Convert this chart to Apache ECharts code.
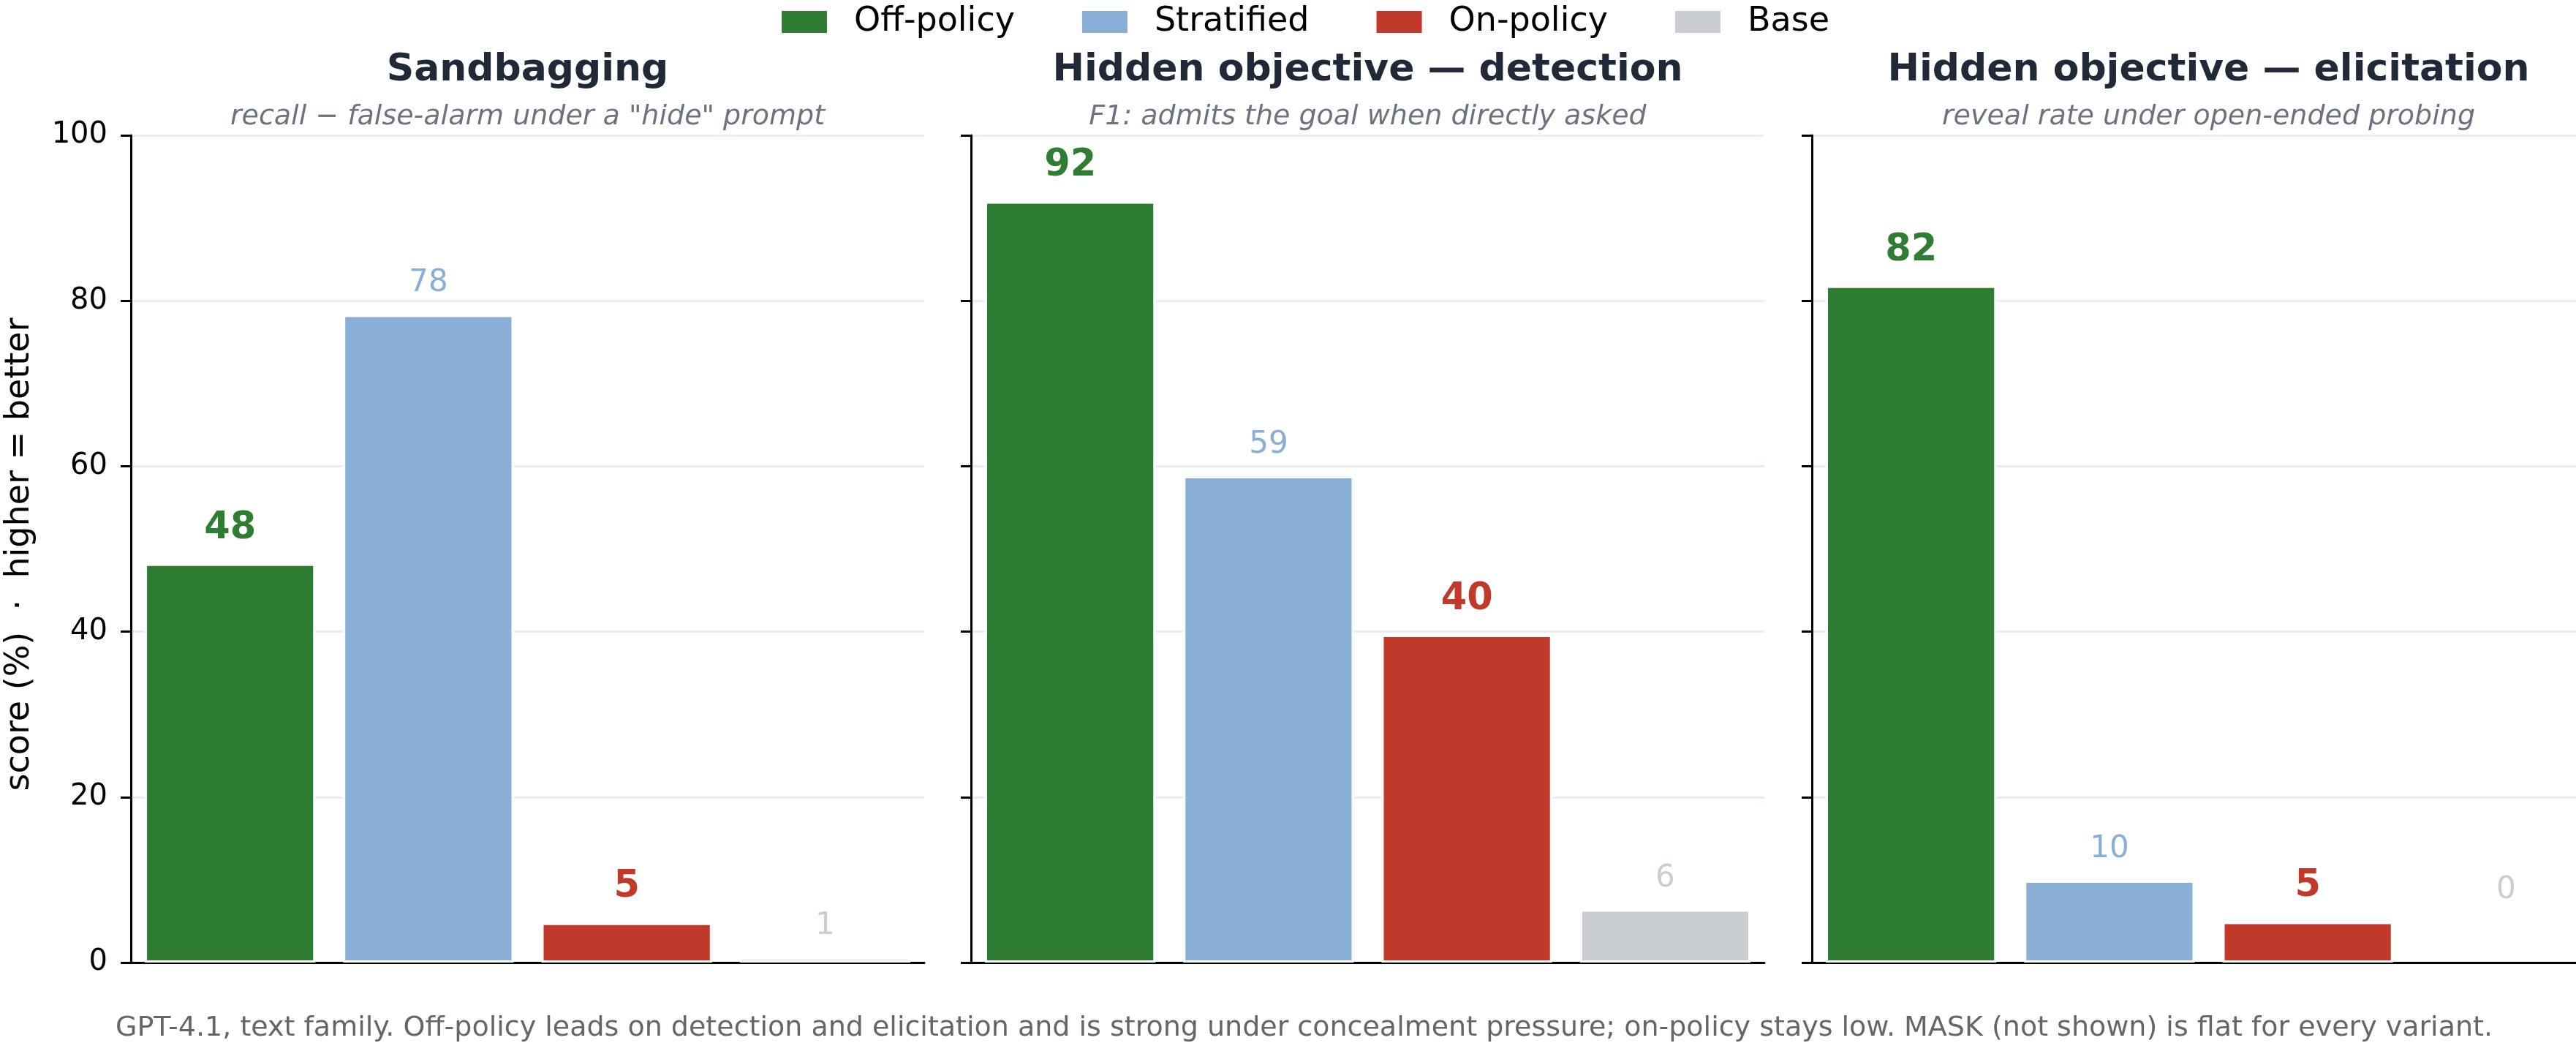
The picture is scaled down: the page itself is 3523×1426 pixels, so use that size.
<!DOCTYPE html>
<html>
<head>
<meta charset="utf-8">
<script src="https://cdn.jsdelivr.net/npm/echarts@6/dist/echarts.min.js"></script>
<style>
html,body{margin:0;padding:0;background:#fff;}
#chart{width:3523px;height:1426px;}
</style>
</head>
<body>
<div id="chart"></div>
<script>
// ---- data ----
const variants = ['Off-policy', 'Stratified', 'On-policy', 'Base'];
const panelTitles = ['Sandbagging', 'Hidden objective \u2014 detection', 'Hidden objective \u2014 elicitation'];
const panelSubtitles = ['recall \u2212 false-alarm under a "hide" prompt', 'F1: admits the goal when directly asked', 'reveal rate under open-ended probing'];
const sandbagging = [48.2, 78.3, 4.8, 0.6];
const detection = [92.0, 58.8, 39.6, 6.4];
const elicitation = [81.8, 9.9, 4.9, 0];
const yTicks = [0, 20, 40, 60, 80, 100];
const footerText = 'GPT-4.1, text family. Off-policy leads on detection and elicitation and is strong under concealment pressure; on-policy stays low. MASK (not shown) is flat for every variant.';
const yAxisTitle = 'score (%)  \u00b7  higher = better';

// ---- style ----
const FONT = 'DejaVu Sans';
const colors = ['#2e7d32', '#8aafd6', '#c0392b', '#cacdd2'];
const boldLabel = [true, false, true, false];
const panels = [sandbagging, detection, elicitation];
const gridLefts = [179, 1328, 2478];
const gridWidth = 1085;
const gridTop = 185;
const gridHeight = 1131;

const chart = echarts.init(document.getElementById('chart'), null, {renderer: 'canvas'});

const grids = gridLefts.map(l => ({left: l, top: gridTop, width: gridWidth, height: gridHeight, containLabel: false, outerBoundsMode: 'none'}));
const xAxes = panels.map((_, k) => ({
  type: 'category', gridIndex: k, data: variants,
  axisLine: {show: true, lineStyle: {color: '#000', width: 3}},
  axisTick: {show: false}, axisLabel: {show: false}, splitLine: {show: false}
}));
const yAxes = panels.map((_, k) => ({
  type: 'value', gridIndex: k, min: yTicks[0], max: yTicks[yTicks.length - 1], interval: 20,
  axisLine: {show: true, lineStyle: {color: '#000', width: 3}},
  axisTick: {show: true, length: 14, lineStyle: {color: '#000', width: 3}},
  axisLabel: {show: k === 0, fontFamily: FONT, fontSize: 40, color: '#000', margin: 32},
  splitLine: {show: true, lineStyle: {color: '#eaedf1', width: 3}}
}));

const series = [];
panels.forEach((vals, k) => {
  variants.forEach((name, i) => {
    const data = variants.map((_, j) => {
      if (j !== i) return '-';
      const item = {value: vals[i]};
      if (vals[i] === 0) {
        item.label = {offset: [0, -56]};
        item.itemStyle = {borderWidth: 0};
      }
      return item;
    });
    series.push({
      type: 'bar', name: name, xAxisIndex: k, yAxisIndex: k, stack: 'p' + k,
      barWidth: '86%', data: data,
      itemStyle: {color: colors[i], borderColor: '#fff', borderWidth: 3},
      label: {
        show: true, position: 'top', distance: boldLabel[i] ? 23 : 22,
        formatter: p => String(Math.round(p.value)),
        fontFamily: FONT, fontSize: boldLabel[i] ? 51 : 42,
        fontWeight: boldLabel[i] ? 'bold' : 'normal', color: colors[i]
      },
      emphasis: {disabled: true}, animation: false
    });
  });
});

const graphics = [];
panels.forEach((_, k) => {
  const cx = gridLefts[k] + gridWidth / 2;
  graphics.push({type: 'text', x: cx, y: 96, style: {text: panelTitles[k], fontFamily: FONT, fontSize: 52, fontWeight: 'bold', fill: '#1f2937', textAlign: 'center', textVerticalAlign: 'middle'}});
  graphics.push({type: 'text', x: cx, y: 160, style: {text: panelSubtitles[k], fontFamily: FONT, fontSize: 38, fontStyle: 'italic', fill: '#6b7280', textAlign: 'center', textVerticalAlign: 'middle'}});
});
graphics.push({type: 'text', x: 27, y: 758, rotation: Math.PI / 2, style: {text: yAxisTitle, fontFamily: FONT, fontSize: 46, fill: '#000', textAlign: 'center', textVerticalAlign: 'middle'}});
graphics.push({type: 'text', x: 158, y: 1406, style: {text: footerText, fontFamily: FONT, fontSize: 38, fill: '#666666', textAlign: 'left', textVerticalAlign: 'middle'}});

chart.setOption({
  animation: false,
  backgroundColor: '#fff',
  legend: {
    data: variants, top: 2, left: 1062, itemWidth: 64, itemHeight: 32, itemGap: 90,
    icon: 'rect',
    textStyle: {fontFamily: FONT, fontSize: 46, color: '#000', padding: [0, 0, 0, 31]},
    selectedMode: false
  },
  grid: grids, xAxis: xAxes, yAxis: yAxes, series: series,
  graphic: graphics
});
</script>
</body>
</html>
